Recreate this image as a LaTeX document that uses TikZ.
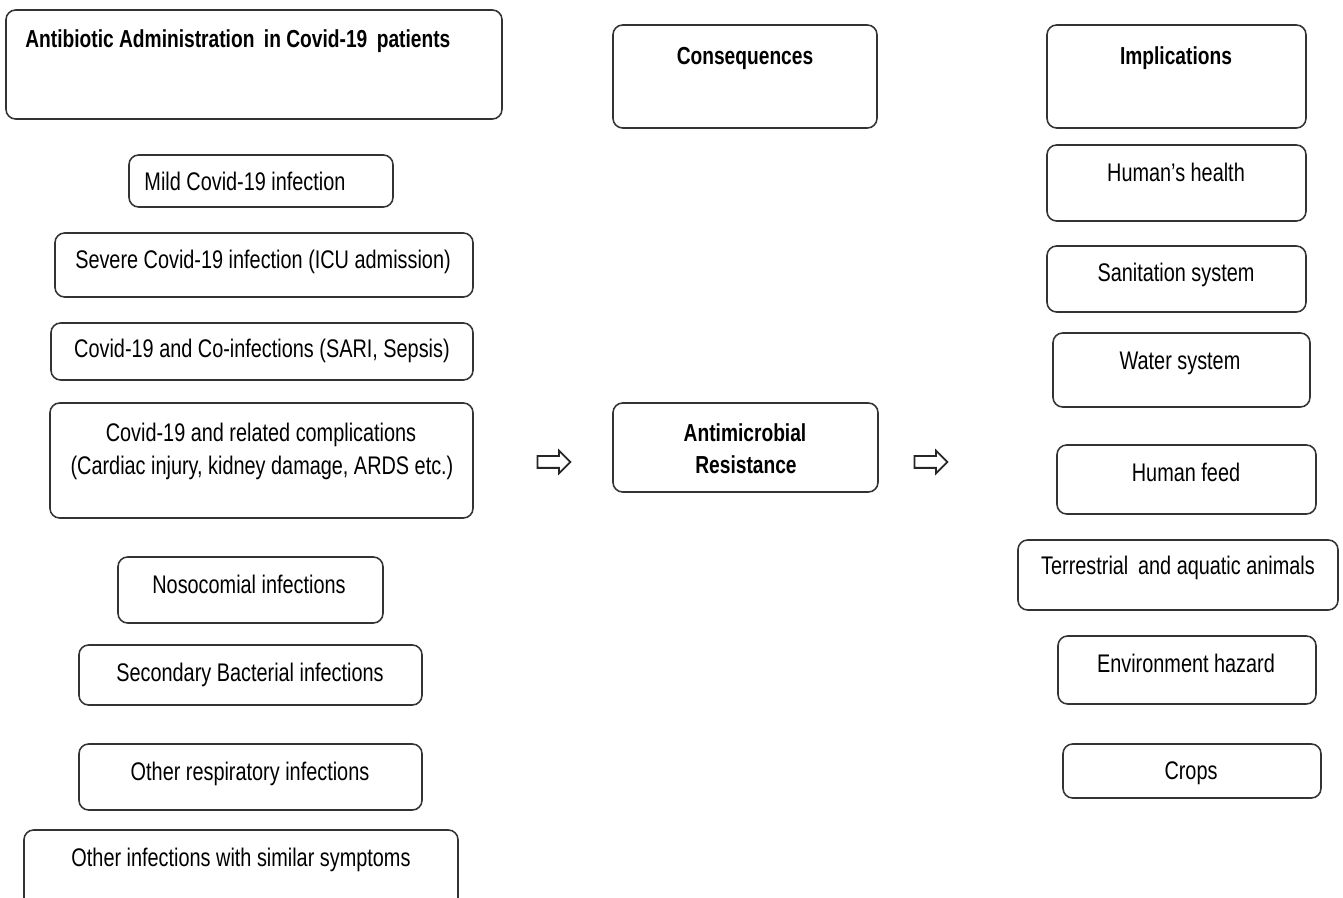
\documentclass[tikz,border=0pt]{standalone}
\usepackage{fontspec}
\setmainfont{Liberation Sans}[FakeStretch=0.78]
\usetikzlibrary{fit,shapes.arrows}

\begin{document}
\begin{tikzpicture}[x=0.02cm, y=-0.02cm,
    box/.style={draw=black!80, line width=0.9pt, rounded corners=5.5pt, inner sep=0pt},
    txt/.style={font=\fontsize{14.5}{18.7}\selectfont, inner sep=0pt, anchor=base},
    hd/.style={txt, font=\fontsize{14}{18.7}\selectfont\bfseries},
    arr/.style={single arrow, draw=black!85, line width=1pt, inner xsep=0pt, inner ysep=0.1cm,
        single arrow head extend=0.11cm, minimum height=0.66cm}]
\useasboundingbox (0,0) rectangle (1343,898);
\clip (0,0) rectangle (1343,898);

% left column: antibiotic use
\node[box, fit={(6,10) (502,119)}] (title) {};
\node[hd, anchor=base west] (title-t) at (25,48) {Antibiotic Administration\, in Covid-19\, patients};
\node[box, fit={(129,155) (393,207)}] (mild) {};
\node[txt] (mild-t) at (245,191) {Mild Covid-19 infection};
\node[box, fit={(55,233) (473,297)}] (severe) {};
\node[txt] (severe-t) at (263,269) {Severe Covid-19 infection (ICU admission)};
\node[box, fit={(51,323) (473,380)}] (coinf) {};
\node[txt] (coinf-t) at (262,358) {Covid-19 and Co-infections (SARI, Sepsis)};
\node[box, fit={(50,403) (473,518)}] (compl) {};
\node[txt] (compl-t1) at (261,442) {Covid-19 and related complications};
\node[txt] (compl-t2) at (262,475) {(Cardiac injury, kidney damage, ARDS etc.)};
\node[box, fit={(118,557) (383,623)}] (noso) {};
\node[txt] (noso-t) at (249,594) {Nosocomial infections};
\node[box, fit={(79,645) (422,705)}] (second) {};
\node[txt] (second-t) at (250,681) {Secondary Bacterial infections};
\node[box, fit={(79,744) (422,810)}] (resp) {};
\node[txt] (resp-t) at (250,780) {Other respiratory infections};
\node[box, fit={(24,830) (458,915)}] (other) {};
\node[txt] (other-t) at (241,866) {Other infections with similar symptoms};

% middle column
\node[box, fit={(613,25) (877,128)}] (conseq) {};
\node[hd] (conseq-t) at (745,65) {Consequences};
\node[box, fit={(613,403) (878,492)}] (amr) {};
\node[hd] (amr-t1) at (745,442) {Antimicrobial};
\node[hd] (amr-t2) at (746,474) {Resistance};
\node[arr] (arr1) at (551,462) {};
\node[arr] (arr2) at (928,462) {};

% right column: implications
\node[box, fit={(1047,25) (1306,128)}] (impl) {};
\node[hd] (impl-t) at (1176,65) {Implications};
\node[box, fit={(1047,145) (1306,221)}] (health) {};
\node[txt] (health-t) at (1176,182) {Human’s health};
\node[box, fit={(1047,246) (1306,312)}] (sanit) {};
\node[txt] (sanit-t) at (1176,282) {Sanitation system};
\node[box, fit={(1053,333) (1310,407)}] (water) {};
\node[txt] (water-t) at (1180,370) {Water system};
\node[box, fit={(1057,445) (1316,514)}] (feed) {};
\node[txt] (feed-t) at (1186,482) {Human feed};
\node[box, fit={(1018,540) (1338,610)}] (animals) {};
\node[txt] (animals-t) at (1178,575) {Terrestrial\, and aquatic animals};
\node[box, fit={(1058,636) (1316,704)}] (env) {};
\node[txt] (env-t) at (1186,672) {Environment hazard};
\node[box, fit={(1063,744) (1321,798)}] (crops) {};
\node[txt] (crops-t) at (1191,779) {Crops};
\end{tikzpicture}
\end{document}
